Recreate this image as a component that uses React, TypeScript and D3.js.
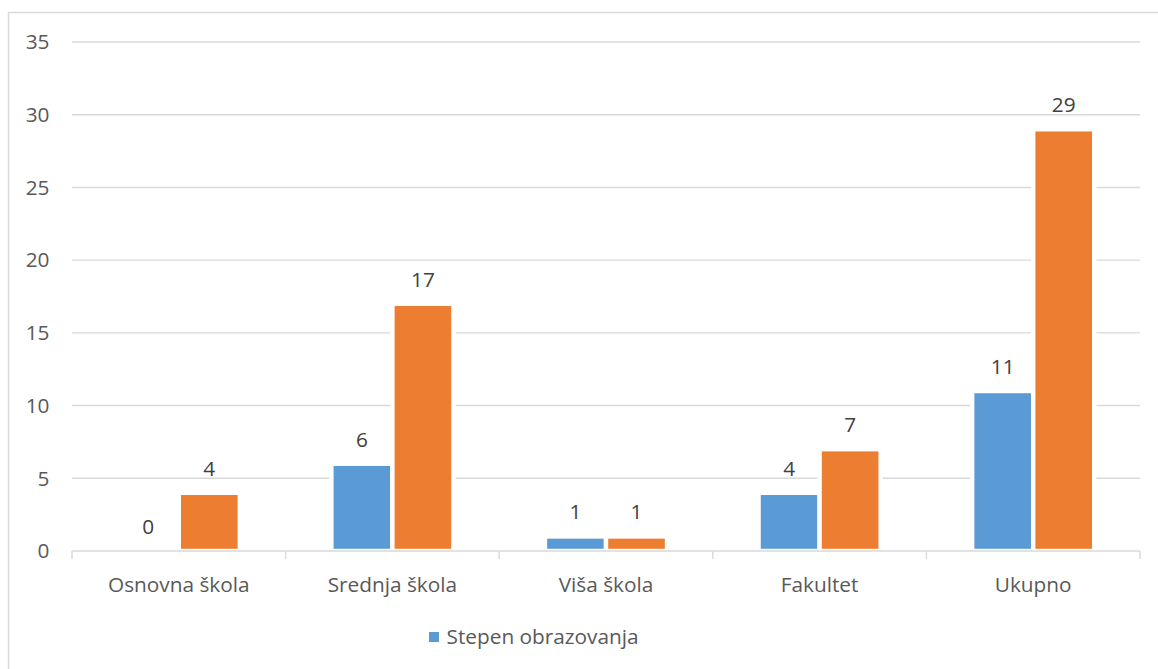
import React from "react";
import * as d3 from "d3";

const categories = ["Osnovna škola", "Srednja škola", "Viša škola", "Fakultet", "Ukupno"];
const seriesNames = ["Stepen obrazovanja", "Serija 2"];
const seriesA = [0, 6, 1, 4, 11];
const seriesB = [4, 17, 1, 7, 29];
const yTicks = [0, 5, 10, 15, 20, 25, 30, 35];
const colors = ["#5B9BD5", "#ED7D31"];

const W = 1158;
const H = 669;
const FONT = "'Open Sans', sans-serif";
const FS = 20.8;

export default function App() {
  const x0 = d3.scaleBand<string>().domain(categories).range([72, 1140]).padding(0);
  const bw = x0.bandwidth();
  const u = bw / 3.5;
  const x1 = d3.scaleBand<string>().domain(seriesNames).range([0.75 * u, 2.75 * u]).padding(0);
  const y = d3.scaleLinear().domain([0, 35]).range([551, 42]);
  const series = [seriesA, seriesB];
  const boundaries = [...categories.map((c) => x0(c)!), 1140];

  return (
    <svg
      width={W}
      height={H}
      style={{ position: "absolute", left: 0, top: 0, background: "#fff" }}
      fontFamily={FONT}
    >
      <rect x={8.5} y={12.5} width={1200} height={720} fill="#fff" stroke="#d9d9d9" strokeWidth={1.5} />
      {yTicks.map((t) => (
        <g key={t}>
          {t !== 0 && (
            <line x1={72} x2={1140} y1={y(t)} y2={y(t)} stroke="#d9d9d9" strokeWidth={1.4} />
          )}
          <text x={49.5} y={y(t)} dy="0.35em" textAnchor="end" fontSize={FS} fill="#595959">
            {t}
          </text>
        </g>
      ))}
      {categories.map((c, i) => (
        <g key={c}>
          {series.map((s, k) => {
            const bx = x0(c)! + x1(seriesNames[k])!;
            const w = x1.bandwidth();
            const v = s[i];
            return (
              <g key={k}>
                {v > 0 && (
                  <rect
                    x={bx}
                    y={y(v)}
                    width={w}
                    height={y(0) - y(v)}
                    fill={colors[k]}
                    stroke="#fff"
                    strokeWidth={4.4}
                  />
                )}
                <text
                  x={bx + w / 2}
                  y={y(v) - 17}
                  textAnchor="middle"
                  fontSize={FS}
                  fill="#404040"
                >
                  {v}
                </text>
              </g>
            );
          })}
          <text x={x0(c)! + bw / 2} y={591.7} textAnchor="middle" fontSize={FS} fill="#595959">
            {c}
          </text>
        </g>
      ))}
      <line x1={72} x2={1140} y1={y(0)} y2={y(0)} stroke="#d9d9d9" strokeWidth={1.4} />
      {boundaries.map((b, i) => (
        <line key={i} x1={b} x2={b} y1={y(0)} y2={y(0) + 8} stroke="#d9d9d9" strokeWidth={1.4} />
      ))}
      <rect x={429} y={632} width={10} height={10} fill={colors[0]} />
      <text x={446.5} y={637} dy="0.35em" fontSize={FS} fill="#595959">
        {seriesNames[0]}
      </text>
    </svg>
  );
}
